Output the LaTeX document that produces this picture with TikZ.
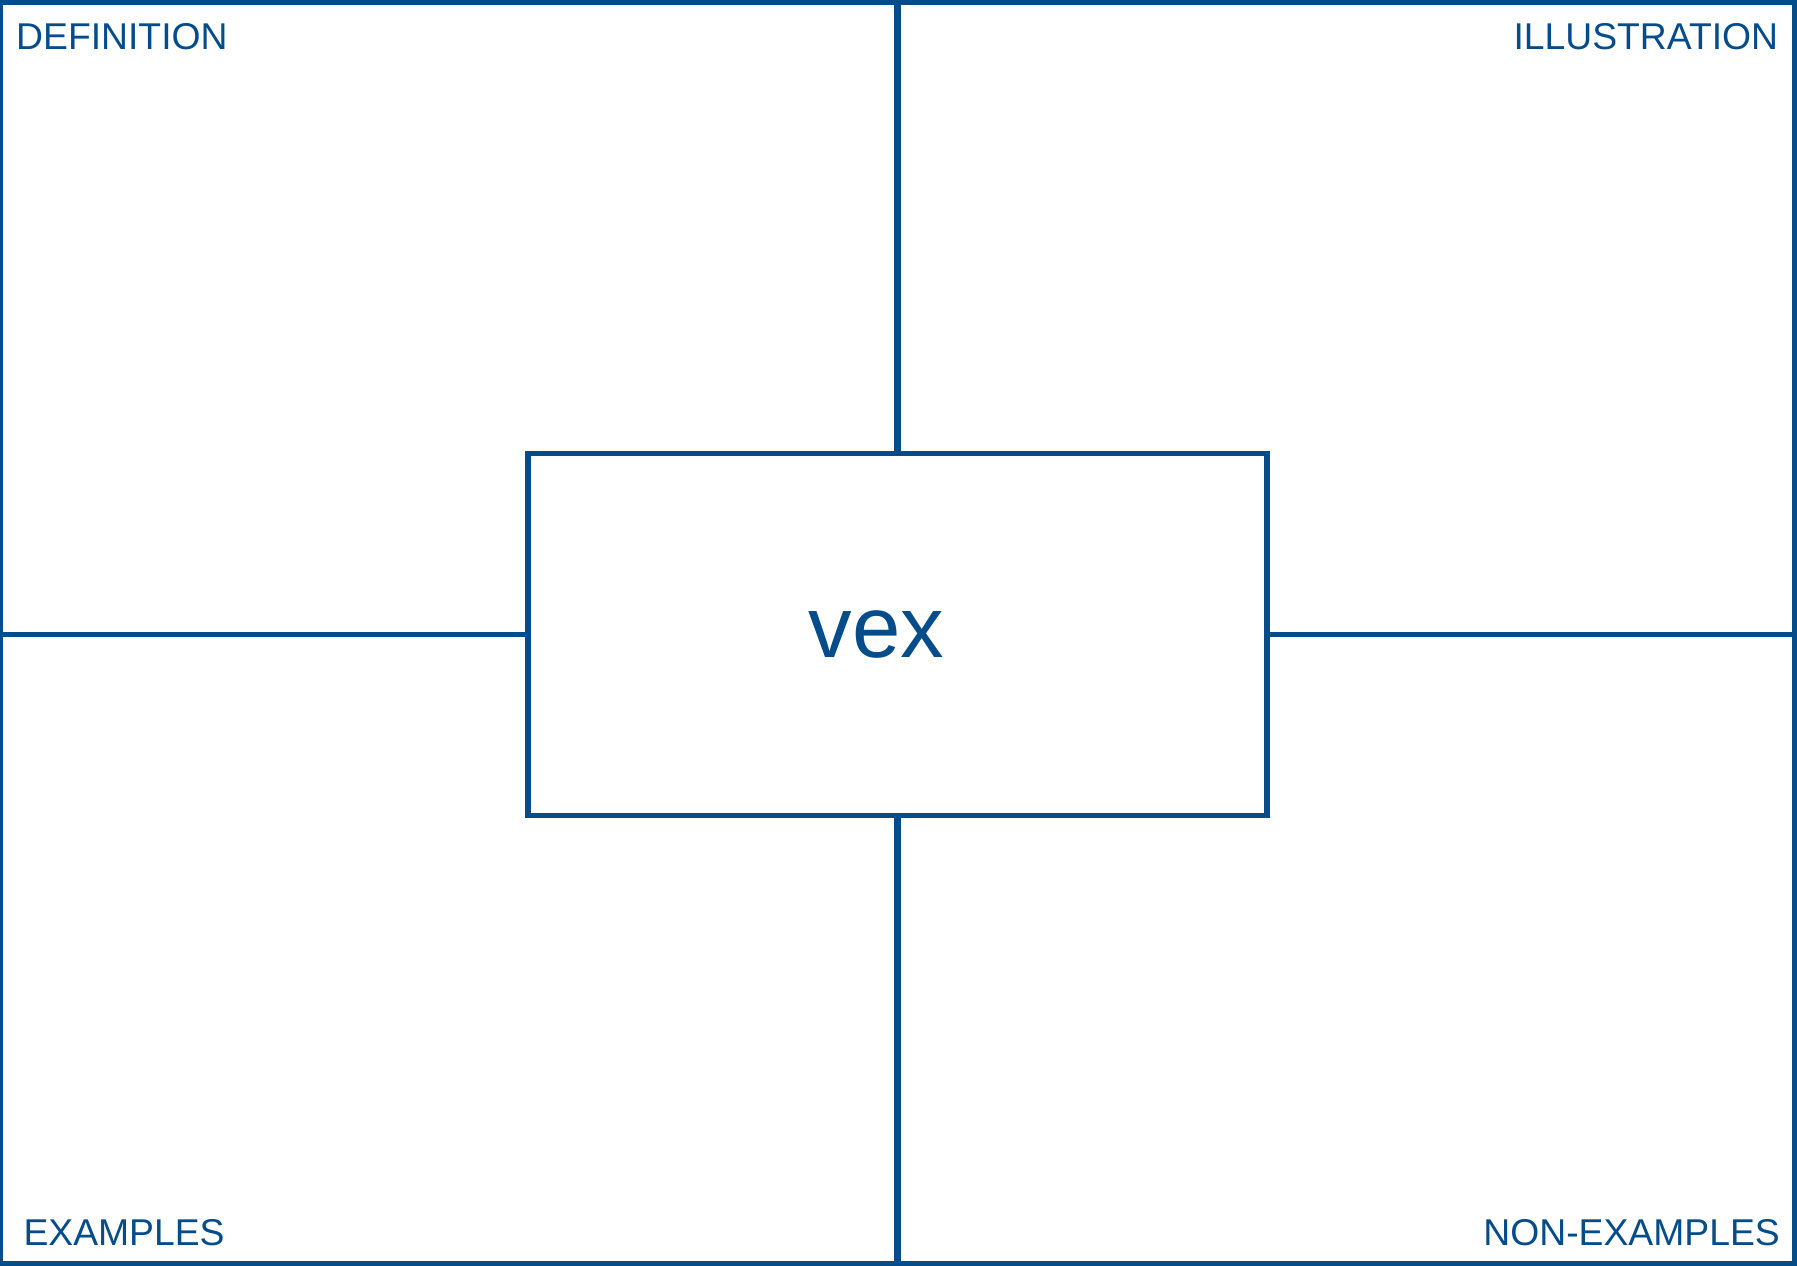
\documentclass[tikz,border=0pt]{standalone}
\usepackage{fontspec}
\setmainfont{Liberation Sans}
\usetikzlibrary{positioning, calc}
\definecolor{frayerblue}{HTML}{054C8A}

\begin{document}
\begin{tikzpicture}[x=1pt, y=-1pt,
  panel/.style={draw=frayerblue, line width=5.5pt, inner sep=0pt, outer sep=0pt},
  divider/.style={draw=frayerblue, line width=5.5pt},
  corner/.style={text=frayerblue, inner sep=0pt, font=\fontsize{37.3}{40}\selectfont}]
  \useasboundingbox (0,0) rectangle (1797,1266);

  % outer frame and word box
  \node[panel, line width=6pt, minimum width=1794.7pt, minimum height=1261.5pt, anchor=north west] (frame) at (0.3,2) {};
  \node[panel, minimum width=739pt, minimum height=362pt] (card) at (897.5,634.5) {};
  \node[text=frayerblue, inner sep=0pt, font=\fontsize{87}{90}\selectfont, xshift=-21pt] (word) at (card.center) {vex};

  % dividers
  \draw[divider, line width=7pt] (card.north) -- (card.north |- frame.north);
  \draw[divider, line width=7pt] (card.south) -- (card.south |- frame.south);
  \draw[divider] (card.west) -- (card.west -| frame.west);
  \draw[divider] (card.east) -- (card.east -| frame.east);

  % corner labels
  \node[corner, anchor=base west] (def) at (16,49.3) {DEFINITION};
  \node[corner, anchor=base east] (ill) at (1778.3,49.3) {ILLUSTRATION};
  \node[corner, anchor=base west] (ex) at (23.3,1245) {EXAMPLES};
  \node[corner, anchor=base east] (nonex) at (1780,1245) {NON-EXAMPLES};
\end{tikzpicture}
\end{document}
